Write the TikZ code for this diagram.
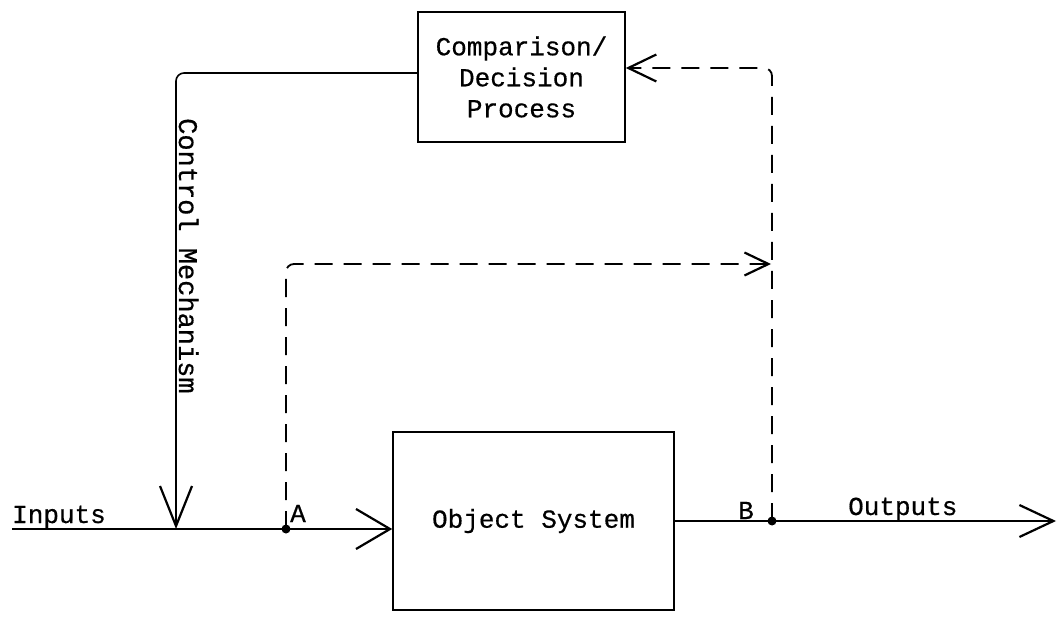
\documentclass[tikz,border=0pt]{standalone}
\usepackage{fontspec}
\setmainfont[FakeBold=0.5]{Liberation Mono}
\usetikzlibrary{arrows.meta}
\begin{document}
\begin{tikzpicture}[x=1pt,y=-1pt,
  every node/.style={font=\fontsize{26}{31}\selectfont, inner sep=0pt},
  box/.style={draw, line width=1.6pt, align=center},
  wire/.style={line width=1.6pt},
  tipin/.style={-{Straight Barb[length=34pt,width=40pt,line width=2.2pt]}},
  tipout/.style={-{Straight Barb[length=34pt,width=32pt,line width=2.2pt]}},
  tipctl/.style={-{Straight Barb[length=40pt,width=32pt,line width=2.2pt]}},
  tiptop/.style={-{Straight Barb[length=28pt,width=27pt,line width=2.2pt]}},
  tipmid/.style={-{Straight Barb[length=24pt,width=23pt,line width=2.2pt]}},
  dashwire/.style={line width=1.8pt, dash pattern=on 18pt off 11pt},
  lbl/.style={anchor=base west}]
\useasboundingbox (0,0) rectangle (1057,620);
% boxes
\node[box, minimum width=207pt, minimum height=130pt] (cdp) at (521.5,77) {Comparison/\\Decision\\Process};
\node[box, minimum width=281pt, minimum height=178pt] (obj) at (533.5,521) {Object System};
% coordinates
\coordinate (inL) at (12,529);
\coordinate (cm) at (176,529);
\coordinate (A) at (286,529);
\coordinate (B) at (772,521);
\coordinate (outR) at (1056,521);
\coordinate (cfrom) at (cdp.west |- 0,73);
\coordinate (mid) at (771,264);
\coordinate (ttip) at (cdp.east |- 0,68);
% main line
\draw[wire, tipin] (inL) -- (inL -| obj.west);
\draw[wire, tipout] (obj.east |- B) -- (outR);
% control mechanism
\draw[wire, tipctl, rounded corners=8pt] (cfrom) -| (cm);
% dashed feedback
\draw[dashwire, tipmid, rounded corners=8pt] (A) |- (mid);
\draw[dashwire, tiptop, rounded corners=8pt] (B) |- (ttip);
% points
\fill (A) circle (4.5pt);
\fill (B) circle (4.5pt);
% labels
\node[lbl] (tin) at (12,523) {Inputs};
\node[lbl] (ta) at (290,522) {A};
\node[lbl] (tb) at (738,519) {B};
\node[lbl] (tout) at (848,515) {Outputs};
\node[lbl, rotate=-90, font=\fontsize{27}{31}\selectfont] (tcm) at (179,118) {Control Mechanism};
\end{tikzpicture}
\end{document}
